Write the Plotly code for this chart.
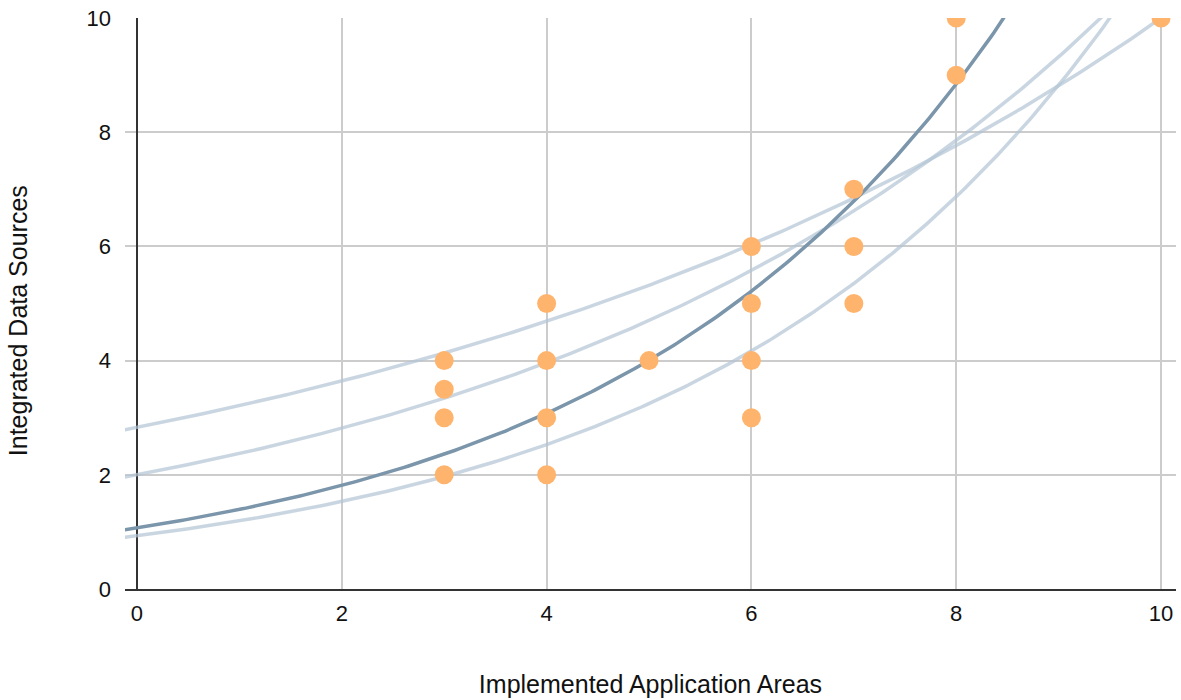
import numpy as np
import plotly.graph_objects as go

# Scatter data
areas = [3, 3, 3, 3, 4, 4, 4, 4, 5, 6, 6, 6, 6, 7, 7, 7, 8, 8, 10]
sources = [4, 3.5, 3, 2, 5, 4, 3, 2, 4, 6, 5, 4, 3, 7, 6, 5, 10, 9, 10]

# Exponential trend lines y = a * exp(b * x)
trend_names = ["Trend A", "Trend B", "Trend C", "Trend main"]
trend_a = [2.83, 2.0, 0.93, 1.07]
trend_b = [0.1262, 0.171, 0.25, 0.264]
trend_colors = ["rgba(178,197,212,0.7)", "rgba(178,197,212,0.7)",
                "rgba(178,197,212,0.7)", "#7b95ab"]

x_ticks = [0, 2, 4, 6, 8, 10]
y_ticks = [0, 2, 4, 6, 8, 10]

fig = go.Figure()
xs = np.linspace(-0.2, 10.3, 300)
for name, a, b, c in zip(trend_names, trend_a, trend_b, trend_colors):
    fig.add_trace(go.Scatter(x=xs, y=a * np.exp(b * xs), mode="lines",
                             line=dict(color=c, width=3.5), name=name,
                             hoverinfo="skip"))

fig.add_trace(go.Scatter(x=areas, y=sources, mode="markers",
                         marker=dict(color="#ffb46e", size=19, line=dict(width=0)),
                         name="Data"))

font = "Liberation Sans, Arial, sans-serif"
fig.update_layout(
    width=1181, height=700,
    margin=dict(l=125, r=5, t=18, b=111),
    plot_bgcolor="white", paper_bgcolor="white",
    showlegend=False,
    font=dict(family=font, color="#111111", size=22),
    xaxis=dict(range=[-0.117, 10.146], tickvals=x_ticks, showgrid=True,
               gridcolor="#cccccc", gridwidth=2, zeroline=True,
               zerolinecolor="#333333", zerolinewidth=2,
               showline=True, linecolor="#333333", linewidth=2,
               ticks="", tickfont=dict(family=font, size=22), ticklabelstandoff=4,
               title=dict(text="Implemented Application Areas",
                          font=dict(family=font, size=25), standoff=50)),
    yaxis=dict(range=[0, 10.001], tickvals=y_ticks, showgrid=True,
               gridcolor="#cccccc", gridwidth=2, zeroline=False,
               ticks="", tickfont=dict(family=font, size=22), ticklabelstandoff=13),
    annotations=[dict(text="Integrated Data Sources", textangle=-90,
                      xref="paper", yref="paper", x=-0.1018, y=0.469,
                      xanchor="center", yanchor="middle", showarrow=False,
                      font=dict(family=font, size=25, color="#111111"))],
)

fig.write_html("out.html")
